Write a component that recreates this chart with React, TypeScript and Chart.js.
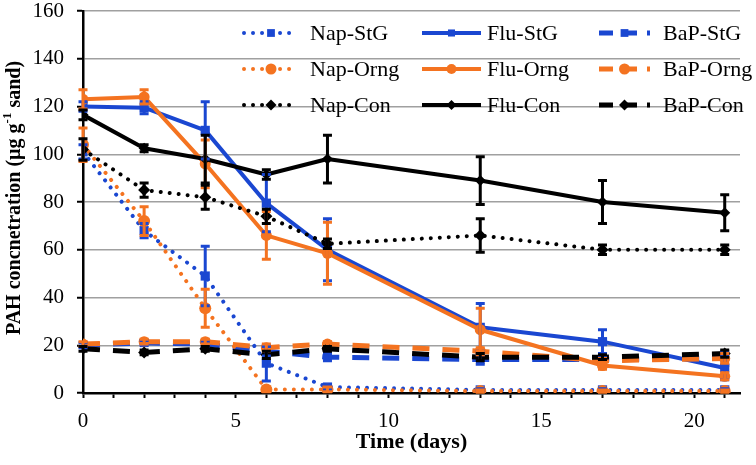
import React, { useEffect, useRef } from "react";
import { Chart, registerables } from "chart.js";

Chart.register(...registerables);

// ---------- data ----------
const days = [0, 2, 4, 6, 8, 13, 17, 21];
const xMajorLabels = [0, 5, 10, 15, 20];

const napStG = [101, 68, 49, 12.5, 2.5, 1.3, 1.3, 1.3];
const napStGErr = [3, 3, 12.5, 7.5, 1, 0.5, 0.5, 0.5];
const fluStG = [120, 119.5, 110, 79.5, 60, 27.5, 21.5, 10.5];
const fluStGErr = [2, 2.5, 12, 12, 13, 10, 5, 5];
const bapStG = [20, 21, 20.5, 17.5, 15, 14, 14, 14.5];
const bapStGErr = [1, 1, 1, 2, 1.5, 2, 1, 3];

const napOrng = [104, 72, 35.5, 1.5, 1.5, 0.8, 0.8, 0.8];
const napOrngErr = [7, 6, 8, 1, 1, 0.5, 0.5, 0.5];
const fluOrng = [123, 124, 96, 66, 58.5, 26.5, 11.5, 7];
const fluOrngErr = [4, 3, 10, 10, 13, 9, 1.5, 1.5];
const bapOrng = [20.5, 21.5, 21.5, 19, 20.5, 17.5, 13.5, 14.5];
const bapOrngErr = [1, 1, 1, 1.5, 1, 1.5, 1, 2];

const napCon = [102, 85, 82, 74, 62.5, 66, 60, 60];
const napConErr = [4.5, 3, 5, 3, 2, 7, 2, 2];
const fluCon = [116.5, 102.5, 98, 91.5, 98, 89, 80, 75.5];
const fluConErr = [2, 1.5, 10, 2, 10, 10, 9, 7.5];
const bapCon = [18.5, 17, 18.5, 16, 18.5, 15, 15, 16.5];
const bapConErr = [1, 1, 1, 1.5, 1, 1.5, 1, 1.5];

const BLUE = "#1a47d1";
const ORANGE = "#f47320";
const BLACK = "#000000";
const FONT = '"Liberation Serif", "Times New Roman", serif';

type LineKind = "dot" | "solid" | "dash";
interface SeriesDef {
  label: string;
  data: number[];
  err: number[];
  color: string;
  line: LineKind;
  marker: string;
  radius: number;
}

const series: SeriesDef[] = [
  { label: "Nap-StG", data: napStG, err: napStGErr, color: BLUE, line: "dot", marker: "rect", radius: 6.5 },
  { label: "Flu-StG", data: fluStG, err: fluStGErr, color: BLUE, line: "solid", marker: "rect", radius: 6.5 },
  { label: "BaP-StG", data: bapStG, err: bapStGErr, color: BLUE, line: "dash", marker: "rect", radius: 6 },
  { label: "Nap-Orng", data: napOrng, err: napOrngErr, color: ORANGE, line: "dot", marker: "circle", radius: 6 },
  { label: "Flu-Orng", data: fluOrng, err: fluOrngErr, color: ORANGE, line: "solid", marker: "circle", radius: 5.5 },
  { label: "BaP-Orng", data: bapOrng, err: bapOrngErr, color: ORANGE, line: "dash", marker: "circle", radius: 5.5 },
  { label: "Nap-Con", data: napCon, err: napConErr, color: BLACK, line: "dot", marker: "rectRot", radius: 6 },
  { label: "Flu-Con", data: fluCon, err: fluConErr, color: BLACK, line: "solid", marker: "rectRot", radius: 5.5 },
  { label: "BaP-Con", data: bapCon, err: bapConErr, color: BLACK, line: "dash", marker: "rectRot", radius: 6 },
];

function lineStyle(kind: LineKind) {
  if (kind === "dot") return { width: 4, dash: [0.01, 9], cap: "round" as CanvasLineCap };
  if (kind === "dash") return { width: 5, dash: [17, 13], cap: "butt" as CanvasLineCap };
  return { width: 4, dash: [] as number[], cap: "butt" as CanvasLineCap };
}

const errorBarPlugin = {
  id: "errorBars",
  afterDatasetsDraw(chart: any) {
    const ctx = chart.ctx as CanvasRenderingContext2D;
    const yScale = chart.scales.y;
    ctx.save();
    series.forEach((s, i) => {
      const meta = chart.getDatasetMeta(i);
      ctx.strokeStyle = s.color;
      ctx.lineWidth = 3;
      ctx.setLineDash([]);
      s.err.forEach((e, j) => {
        if (!e) return;
        const pt = meta.data[j];
        if (!pt) return;
        const x = pt.x;
        const yT = yScale.getPixelForValue(s.data[j] + e);
        const yB = yScale.getPixelForValue(Math.max(0, s.data[j] - e));
        ctx.beginPath();
        ctx.moveTo(x, yT);
        ctx.lineTo(x, yB);
        ctx.moveTo(x - 4.5, yT);
        ctx.lineTo(x + 4.5, yT);
        ctx.moveTo(x - 4.5, yB);
        ctx.lineTo(x + 4.5, yB);
        ctx.stroke();
      });
    });
    ctx.restore();
  },
};

function drawMarker(ctx: CanvasRenderingContext2D, kind: string, x: number, y: number, r: number, color: string) {
  ctx.save();
  ctx.fillStyle = color;
  ctx.setLineDash([]);
  ctx.beginPath();
  if (kind === "rect") {
    const h = r * Math.SQRT1_2;
    ctx.rect(x - h, y - h, 2 * h, 2 * h);
  } else if (kind === "circle") {
    ctx.arc(x, y, r, 0, Math.PI * 2);
  } else {
    ctx.moveTo(x, y - r);
    ctx.lineTo(x + r, y);
    ctx.lineTo(x, y + r);
    ctx.lineTo(x - r, y);
    ctx.closePath();
  }
  ctx.fill();
  ctx.restore();
}

const legendCols = [
  { x0: 244, x1: 298, tx: 310 },
  { x0: 422, x1: 481, tx: 487 },
  { x0: 599, x1: 650, tx: 663 },
];
const legendRows = [33, 69, 105];

const customDrawPlugin = {
  id: "customDraw",
  afterDraw(chart: any) {
    const ctx = chart.ctx as CanvasRenderingContext2D;
    const area = chart.chartArea;
    ctx.save();
    // Legend
    series.forEach((s, i) => {
      const col = legendCols[i % 3];
      const y = legendRows[Math.floor(i / 3)];
      const st = lineStyle(s.line);
      ctx.save();
      ctx.strokeStyle = s.color;
      ctx.lineWidth = st.width;
      ctx.lineCap = st.cap;
      ctx.setLineDash(s.line === "dash" ? [14, 10] : st.dash);
      ctx.beginPath();
      ctx.moveTo(col.x0, y);
      ctx.lineTo(col.x1, y);
      ctx.stroke();
      ctx.restore();
      drawMarker(ctx, s.marker, (col.x0 + col.x1) / 2, y, s.line === "solid" ? 5 : 5.5, s.color);
      ctx.fillStyle = "#000";
      ctx.font = `22px ${FONT}`;
      ctx.textBaseline = "middle";
      ctx.textAlign = "left";
      ctx.fillText(s.label, col.tx, y + 1);
    });

    // X title
    ctx.fillStyle = "#000";
    ctx.font = `bold 22px ${FONT}`;
    ctx.textAlign = "center";
    ctx.textBaseline = "middle";
    ctx.fillText("Time (days)", (area.left + area.right) / 2, 442);

    // Y title with superscript
    const partA = "PAH concnetration (µg g";
    const sup = "-1";
    const partB = " sand)";
    const big = `bold 20px ${FONT}`;
    const small = `bold 13px ${FONT}`;
    ctx.font = big;
    const wA = ctx.measureText(partA).width;
    const wB = ctx.measureText(partB).width;
    ctx.font = small;
    const wS = ctx.measureText(sup).width;
    const total = wA + wS + wB;
    ctx.translate(15, (area.top + area.bottom) / 2 - 4);
    ctx.rotate(-Math.PI / 2);
    ctx.textAlign = "left";
    ctx.textBaseline = "middle";
    let x = -total / 2;
    ctx.font = big;
    ctx.fillText(partA, x, 0);
    x += wA;
    ctx.font = small;
    ctx.fillText(sup, x, -7);
    x += wS;
    ctx.font = big;
    ctx.fillText(partB, x, 0);
    ctx.restore();
  },
};

export default function App() {
  const canvasRef = useRef<HTMLCanvasElement | null>(null);

  useEffect(() => {
    if (!canvasRef.current) return;
    const datasets = series.map((s, i) => {
      const st = lineStyle(s.line);
      return {
        label: s.label,
        data: days.map((d, j) => ({ x: d, y: s.data[j] })),
        borderColor: s.color,
        backgroundColor: s.color,
        borderWidth: st.width,
        borderDash: st.dash,
        borderCapStyle: st.cap,
        borderJoinStyle: "round" as CanvasLineJoin,
        pointStyle: s.marker,
        pointRadius: s.radius,
        pointBackgroundColor: s.color,
        pointBorderColor: s.color,
        pointBorderWidth: 0,
        tension: 0,
        fill: false,
        order: series.length - i,
      };
    });

    const chart = new Chart(canvasRef.current, {
      type: "line",
      data: { datasets: datasets as any },
      options: {
        animation: false,
        responsive: false,
        events: [],
        layout: { padding: { top: 11, right: 16, left: 0, bottom: 0 } },
        plugins: { legend: { display: false }, tooltip: { enabled: false } },
        scales: {
          x: {
            type: "linear",
            min: 0,
            max: 21.5,
            afterFit: (s: any) => {
              s.height = 72;
              s.paddingLeft = 0;
              s.paddingRight = 0;
            },
            ticks: {
              stepSize: 1,
              includeBounds: false,
              autoSkip: false,
              maxRotation: 0,
              callback: (v: any) => (xMajorLabels.includes(Number(v)) ? String(v) : ""),
              font: { family: FONT, size: 21 },
              color: "#000",
              padding: 11,
            },
            grid: {
              drawOnChartArea: false,
              drawTicks: true,
              tickLength: 5,
              tickColor: "#000",
              tickWidth: 2,
            },
            border: { display: true, color: "#000", width: 2.5 },
          },
          y: {
            min: 0,
            max: 160,
            afterFit: (s: any) => {
              s.width = 83;
              s.paddingTop = 0;
              s.paddingBottom = 0;
            },
            ticks: {
              stepSize: 20,
              font: { family: FONT, size: 21 },
              color: "#000",
              padding: 13,
            },
            grid: {
              color: "#a0a0a0",
              lineWidth: 1.5,
              drawTicks: true,
              tickLength: 6,
              tickColor: "#000",
              tickWidth: 2,
            },
            border: { display: true, color: "#000", width: 2.5 },
          },
        },
      },
      plugins: [errorBarPlugin, customDrawPlugin],
    });
    return () => chart.destroy();
  }, []);

  return (
    <div style={{ position: "absolute", left: 0, top: 0, width: 756, height: 465, background: "#fff" }}>
      <canvas ref={canvasRef} width={756} height={465} style={{ display: "block" }} />
    </div>
  );
}
